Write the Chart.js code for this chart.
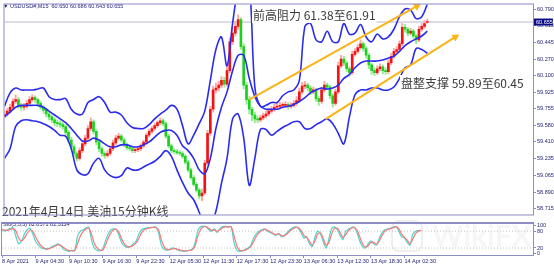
<!DOCTYPE html>
<html>
<head>
<meta charset="utf-8">
<script src="https://cdn.jsdelivr.net/npm/chart.js@4.4.1/dist/chart.umd.min.js"></script>
<style>
  html, body { margin: 0; padding: 0; background: #fff; }
  #wrap { position: relative; width: 554px; height: 265px; overflow: hidden; }
  #mainChart { position: absolute; left: 0; top: 0; }
  #stoChart { position: absolute; left: 0; top: 219px; }
</style>
</head>
<body>
<div id="wrap">
  <canvas id="mainChart" width="554" height="219"></canvas>
  <canvas id="stoChart" width="554" height="46"></canvas>
</div>
<script>
// 15-minute candles, one drawn candle every 2 bars
const candleOpen = [59.68,59.70,59.73,59.77,59.83,59.85,59.79,59.77,59.78,59.81,
  59.85,59.87,59.85,59.81,59.77,59.74,59.70,59.67,59.64,59.61,
  59.60,59.59,59.57,59.51,59.43,59.36,59.29,59.24,59.32,59.39,
  59.45,59.55,59.62,59.52,59.41,59.34,59.29,59.27,59.29,59.34,
  59.40,59.45,59.47,59.43,59.38,59.35,59.34,59.32,59.33,59.34,
  59.37,59.41,59.48,59.52,59.55,59.58,59.61,59.63,59.60,59.47,
  59.37,59.32,59.31,59.30,59.29,59.26,59.20,59.12,59.04,58.97,
  58.91,58.85,58.88,59.19,59.50,59.75,59.95,59.97,60.00,60.05,
  60.01,60.15,60.45,60.54,60.61,60.68,60.40,60.00,59.85,59.75,
  59.69,59.65,59.64,59.66,59.68,59.70,59.73,59.75,59.77,59.78,
  59.79,59.79,59.80,59.78,59.79,59.81,59.84,59.93,59.99,60.00,
  59.97,59.93,59.95,59.86,59.83,59.95,60.00,59.98,59.89,59.81,
  59.93,60.20,60.27,60.23,60.17,60.13,60.32,60.35,60.39,60.43,
  60.38,60.31,60.21,60.15,60.13,60.17,60.19,60.15,60.14,60.23,
  60.30,60.35,60.37,60.43,60.60,60.58,60.54,60.56,60.51,60.47,
  60.58,60.61,60.65];
const candleHigh = [59.74,59.76,59.80,59.86,59.90,59.87,59.81,59.81,59.84,59.88,
  59.90,59.89,59.86,59.83,59.79,59.76,59.72,59.69,59.66,59.64,
  59.63,59.61,59.59,59.53,59.46,59.38,59.31,59.35,59.42,59.48,
  59.58,59.66,59.64,59.54,59.43,59.36,59.31,59.32,59.37,59.43,
  59.48,59.50,59.49,59.45,59.40,59.37,59.36,59.35,59.36,59.39,
  59.43,59.50,59.54,59.57,59.60,59.63,59.66,59.65,59.62,59.49,
  59.39,59.34,59.33,59.32,59.31,59.28,59.22,59.14,59.06,58.99,
  58.93,58.92,59.22,59.53,59.78,59.99,60.02,60.04,60.09,60.08,
  60.19,60.49,60.60,60.66,60.73,60.70,60.43,60.03,59.88,59.77,
  59.72,59.68,59.69,59.71,59.73,59.76,59.78,59.80,59.81,59.82,
  59.82,59.83,59.82,59.82,59.84,59.88,59.97,60.03,60.04,60.02,
  59.99,59.98,59.97,59.88,59.98,60.04,60.02,60.00,59.91,59.96,
  60.24,60.31,60.30,60.25,60.19,60.35,60.38,60.42,60.47,60.45,
  60.40,60.33,60.23,60.18,60.20,60.22,60.21,60.18,60.26,60.33,
  60.38,60.40,60.46,60.64,60.63,60.60,60.59,60.58,60.53,60.61,
  60.64,60.67,60.686];
const candleLow = [59.66,59.68,59.71,59.75,59.81,59.76,59.74,59.74,59.76,59.79,
  59.83,59.82,59.78,59.75,59.71,59.67,59.64,59.61,59.58,59.57,
  59.56,59.54,59.48,59.40,59.33,59.26,59.21,59.22,59.30,59.37,
  59.43,59.53,59.49,59.38,59.31,59.26,59.24,59.25,59.27,59.32,
  59.38,59.43,59.41,59.36,59.33,59.32,59.30,59.30,59.31,59.32,
  59.35,59.39,59.46,59.50,59.53,59.56,59.59,59.58,59.45,59.35,
  59.30,59.29,59.28,59.27,59.24,59.18,59.10,59.02,58.95,58.89,
  58.82,58.80,58.86,59.17,59.48,59.72,59.92,59.94,59.97,59.98,
  59.99,60.13,60.42,60.51,60.58,60.37,59.96,59.80,59.70,59.63,
  59.61,59.61,59.62,59.64,59.66,59.68,59.71,59.73,59.75,59.76,
  59.76,59.77,59.75,59.76,59.77,59.79,59.82,59.91,59.96,59.94,
  59.90,59.91,59.83,59.79,59.81,59.93,59.95,59.86,59.77,59.79,
  59.91,60.18,60.20,60.14,60.09,60.11,60.30,60.33,60.37,60.35,
  60.28,60.17,60.11,60.10,60.11,60.15,60.12,60.11,60.12,60.21,
  60.28,60.33,60.35,60.41,60.55,60.51,60.52,60.48,60.43,60.45,
  60.56,60.59,60.643];
const candleClose = [59.70,59.73,59.77,59.83,59.85,59.79,59.77,59.78,59.81,59.85,
  59.87,59.85,59.81,59.77,59.74,59.70,59.67,59.64,59.61,59.60,
  59.59,59.57,59.51,59.43,59.36,59.29,59.24,59.32,59.39,59.45,
  59.55,59.62,59.52,59.41,59.34,59.29,59.27,59.29,59.34,59.40,
  59.45,59.47,59.43,59.38,59.35,59.34,59.32,59.33,59.34,59.37,
  59.41,59.48,59.52,59.55,59.58,59.61,59.63,59.60,59.47,59.37,
  59.32,59.31,59.30,59.29,59.26,59.20,59.12,59.04,58.97,58.91,
  58.85,58.88,59.19,59.50,59.75,59.95,59.97,60.00,60.05,60.01,
  60.15,60.45,60.54,60.61,60.68,60.40,60.00,59.85,59.75,59.69,
  59.65,59.64,59.66,59.68,59.70,59.73,59.75,59.77,59.78,59.79,
  59.79,59.80,59.78,59.79,59.81,59.84,59.93,59.99,60.00,59.97,
  59.93,59.95,59.86,59.83,59.95,60.00,59.98,59.89,59.81,59.93,
  60.20,60.27,60.23,60.17,60.13,60.32,60.35,60.39,60.43,60.38,
  60.31,60.21,60.15,60.13,60.17,60.19,60.15,60.14,60.23,60.30,
  60.35,60.37,60.43,60.60,60.58,60.54,60.56,60.51,60.47,60.58,
  60.61,60.64,60.655];

// Bollinger bands, read every 4 bars
const bandUpper = [59.78,59.92,59.97,59.95,59.95,59.95,59.96,59.97,59.88,59.85,
  59.85,59.86,59.75,59.70,59.70,59.82,59.85,59.88,59.82,59.72,
  59.72,59.69,59.61,59.56,59.55,59.55,59.59,59.65,59.70,59.74,
  59.79,59.75,59.58,59.39,59.48,59.60,59.73,60.05,60.37,60.50,
  60.20,60.64,61.01,61.16,61.06,59.98,59.78,59.79,59.82,59.82,
  59.89,59.93,59.95,60.05,60.61,60.64,60.47,60.45,60.56,60.45,
  60.45,60.64,60.53,60.54,60.63,60.50,60.45,60.53,60.48,60.50,
  60.58,60.71,60.79,60.78,60.69,60.71,60.84];
const bandMiddle = [59.67,59.72,59.77,59.79,59.79,59.79,59.79,59.77,59.73,59.69,
  59.65,59.61,59.55,59.48,59.42,59.42,59.45,59.43,59.39,59.36,
  59.36,59.38,59.38,59.36,59.36,59.38,59.41,59.46,59.51,59.53,
  59.53,59.48,59.37,59.32,59.24,59.12,59.08,59.24,59.55,59.77,
  59.93,60.15,60.31,60.31,60.07,59.88,59.78,59.75,59.75,59.75,
  59.77,59.78,59.80,59.83,59.87,59.92,59.95,59.97,59.96,59.97,
  60.00,60.07,60.11,60.18,60.23,60.25,60.25,60.25,60.26,60.28,
  60.30,60.35,60.41,60.45,60.48,60.51,60.56];
const bandLower = [59.24,59.34,59.57,59.63,59.64,59.63,59.62,59.60,59.57,59.53,
  59.48,59.47,59.34,59.12,59.07,59.08,59.19,59.24,59.12,59.06,
  59.04,59.06,59.14,59.12,59.12,59.15,59.18,59.21,59.26,59.32,
  59.26,59.12,58.99,58.88,58.81,58.68,58.52,58.54,58.69,58.98,
  59.24,59.65,59.70,59.45,58.96,59.24,59.54,59.54,59.48,59.52,
  59.56,59.59,59.62,59.62,59.55,59.55,59.59,59.62,59.65,59.60,
  59.50,59.39,59.67,59.90,59.95,59.95,59.97,59.97,59.95,59.95,
  59.98,60.07,60.18,60.21,60.38,60.37,60.33];

// Stochastic (5,3,3), every 2 bars
const stoMain = [88,80,85,90,92,60,35,45,70,85,90,
  70,45,30,20,18,15,20,25,30,35,28,
  15,10,8,12,10,
  60,80,85,92,95,
  50,20,12,10,15,
  45,70,85,88,85,
  60,35,25,22,25,35,45,
  70,85,90,92,93,94,95,
  75,30,15,12,15,20,18,
  12,10,8,10,12,15,35,
  80,95,98,96,85,80,88,75,90,96,97,95,96,
  40,12,8,10,15,20,30,
  55,70,80,85,88,80,75,70,65,72,60,65,75,85,
  92,95,90,75,55,60,
  35,25,60,80,70,40,20,55,
  90,95,85,65,50,80,88,92,95,
  75,45,25,20,35,45,35,30,55,
  75,85,88,90,95,97,
  80,60,55,40,30,70,80,82,82.86];
const stoSignal = [85,84,83,86,89,80,55,45,55,72,84,
  80,60,42,28,20,17,18,22,27,31,30,
  22,15,11,10,11,
  35,62,78,87,92,
  70,38,20,13,12,
  30,55,75,85,86,
  72,48,32,25,25,30,38,
  55,75,85,90,92,93,94,
  85,50,25,15,14,17,18,
  15,12,10,10,11,13,25,
  60,85,95,96,90,83,84,80,85,92,95,95,95,
  65,28,12,10,12,17,25,
  42,62,75,82,86,83,78,72,68,70,65,63,70,80,
  88,93,92,82,65,58,
  45,30,45,70,74,52,30,40,
  72,90,90,75,58,68,82,90,93,
  84,60,35,23,28,40,40,33,45,
  65,80,86,89,92,96,
  88,70,58,48,35,52,72,80,82.31];

// hand-drawn channel lines (bar index, price)
const channelTopX = [176.0, 296.5];
const channelTopY = [59.85, 60.82];
const channelLowX = [231.1, 324.2];
const channelLowY = [59.65, 60.50];

const priceTicks = [60.790, 60.615, 60.445, 60.270, 60.100, 59.925, 59.755, 59.580, 59.410, 59.235, 59.065, 58.890, 58.715];
const stoTicks = [0, 20, 80, 100];
const stoLevels = [20, 80];
const timeTickBars = [0, 24, 48, 72, 96, 120, 144, 168, 192, 216, 240, 264, 288];
const timeLabels = ['8 Apr 2021', '9 Apr 04:30', '9 Apr 10:30', '9 Apr 16:30', '9 Apr 22:30', '12 Apr 05:30',
  '12 Apr 11:30', '12 Apr 17:30', '12 Apr 23:30', '13 Apr 06:30', '13 Apr 12:30', '13 Apr 18:30', '14 Apr 02:30'];
const lastPrice = 60.655;

const BAR_MAX = 380;
const axisColor = '#8c8cc8';
const labelColor = '#23237a';
const bandBlue = '#2b2bf0';
const orange = '#fbb316';
const tinyFont = { family: 'Liberation Sans', size: 5.5 };

const candleX = candleClose.map((c, i) => i * 2);
const bandX = bandUpper.map((v, i) => i * 4);

const isUp = candleClose.map((c, i) => c >= candleOpen[i]);

const frame = {
  id: 'frame',
  afterDraw(chart, args, opts) {
    const { ctx, chartArea: a } = chart;
    ctx.save();
    ctx.strokeStyle = axisColor;
    ctx.lineWidth = 1;
    ctx.strokeRect(a.left - 0.5, a.top - 0.5, a.right - a.left + 1, a.bottom - a.top + 1);
    if (opts.heavyTop) {
      ctx.fillStyle = '#7d7dc0';
      ctx.fillRect(a.left - 1, a.top - 1, a.right - a.left + 2, 1.5);
    }
    ctx.restore();
  }
};

const notes = {
  id: 'notes',
  afterDatasetsDraw(chart) {
    const { ctx, scales } = chart;
    ctx.save();
    ctx.textBaseline = 'middle';
    ctx.font = '5.5px "Liberation Sans"';
    ctx.fillStyle = labelColor;
    ctx.fillText('\u25BC USDUSD#,M15  60.650 60.686 60.643 60.655', 3, 6);

    ctx.font = '12px "Noto Sans CJK SC"';
    const texts = [
      ['前高阻力 61.38至61.91', 253, 15],
      ['盘整支撑 59.89至60.45', 401, 83],
      ['2021年4月14日 美油15分钟K线', 2, 211]
    ];
    texts.forEach(([t, x, y]) => {
      const w = ctx.measureText(t).width;
      ctx.fillStyle = '#ffffff';
      ctx.fillRect(x - 1, y - 8, w + 2, 16);
      ctx.fillStyle = '#3b3b3b';
      ctx.fillText(t, x, y);
    });

    // current price box on the axis
    const py = scales.y.getPixelForValue(lastPrice);
    ctx.fillStyle = '#0c0c86';
    ctx.fillRect(534, py - 3.5, 19, 7);
    ctx.fillStyle = '#ffffff';
    ctx.font = '5.5px "Liberation Sans"';
    ctx.fillText(lastPrice.toFixed(3), 536, py + 0.5);
    ctx.restore();
  }
};

new Chart(document.getElementById('mainChart'), {
  type: 'bar',
  data: {
    datasets: [
      {
        type: 'line',
        data: [{ x: 0, y: lastPrice }, { x: BAR_MAX, y: lastPrice }],
        borderColor: '#b9b9cf', borderWidth: 1, pointRadius: 0, order: 6
      },
      {
        label: 'wicks',
        data: candleX.map((x, i) => ({ x, y: [candleLow[i], candleHigh[i]] })),
        backgroundColor: isUp.map(u => u ? '#ffa6a6' : '#95ec95'),
        barThickness: 1.3, grouped: false, order: 5
      },
      {
        label: 'bodies',
        data: candleX.map((x, i) => ({ x, y: [candleOpen[i], candleClose[i]] })),
        backgroundColor: isUp.map(u => u ? '#f21414' : '#1fcf1f'),
        barThickness: 2, grouped: false, minBarLength: 1, order: 4
      },
      ...[bandUpper, bandMiddle, bandLower].map(band => ({
        type: 'line',
        data: bandX.map((x, i) => ({ x, y: band[i] })),
        borderColor: bandBlue, borderWidth: 1.6, pointRadius: 0, tension: 0.35, order: 2
      })),
      ...[[channelTopX, channelTopY, 60], [channelLowX, channelLowY, 57]].map(([xs, ys, rot]) => ({
        type: 'line',
        data: xs.map((x, i) => ({ x, y: ys[i] })),
        borderColor: orange, borderWidth: 2,
        pointStyle: 'triangle', pointRadius: [0, 4.5], pointRotation: [0, rot],
        pointBackgroundColor: orange, pointBorderColor: orange, pointBorderWidth: 0,
        clip: false, order: 1
      }))
    ]
  },
  options: {
    responsive: false,
    animation: false,
    events: [],
    layout: { padding: { left: 2, top: 2, bottom: 1, right: 0 } },
    plugins: { legend: { display: false }, tooltip: { enabled: false }, frame: {} },
    scales: {
      x: { type: 'linear', min: 0, max: BAR_MAX, offset: false, display: false },
      y: {
        position: 'right', min: 58.657, max: 60.837,
        afterFit: s => { s.width = 21; },
        afterBuildTicks: s => { s.ticks = priceTicks.map(v => ({ value: v })); },
        ticks: { autoSkip: false, font: tinyFont, color: labelColor, padding: 1, callback: v => v.toFixed(3) },
        grid: { drawOnChartArea: false, tickLength: 3, color: axisColor },
        border: { color: axisColor }
      }
    }
  },
  plugins: [frame, notes]
});

const watermark = {
  id: 'watermark',
  beforeDatasetsDraw(chart) {
    const { ctx } = chart;
    ctx.save();
    ctx.strokeStyle = 'rgba(190,190,190,0.25)';
    ctx.lineWidth = 2;
    ctx.beginPath();
    ctx.roundRect(392, 2, 30, 30, 7);
    ctx.stroke();
    ctx.font = 'bold 30px Lato';
    ctx.fillStyle = 'rgba(200,200,200,0.16)';
    ctx.textBaseline = 'middle';
    ctx.fillText('WikiFX', 432, 18);
    ctx.restore();
  }
};

const stoLabel = {
  id: 'stoLabel',
  afterDatasetsDraw(chart) {
    const { ctx } = chart;
    ctx.save();
    ctx.font = '5.5px "Liberation Sans"';
    ctx.fillStyle = labelColor;
    ctx.textBaseline = 'middle';
    ctx.fillText('Sto(5,3,3) 82.8571 82.3114', 3, 5);
    ctx.restore();
  }
};

new Chart(document.getElementById('stoChart'), {
  type: 'line',
  data: {
    datasets: [
      ...stoLevels.map(v => ({
        data: [{ x: 0, y: v }, { x: BAR_MAX, y: v }],
        borderColor: '#c4c4c4', borderWidth: 1, borderDash: [1, 2], pointRadius: 0, order: 3
      })),
      {
        data: candleX.map((x, i) => ({ x, y: stoMain[i] })),
        borderColor: '#4fd4cc', borderWidth: 1.2, pointRadius: 0, tension: 0.25, order: 2
      },
      {
        data: candleX.map((x, i) => ({ x, y: stoSignal[i] })),
        borderColor: '#f57a7a', borderWidth: 1.2, pointRadius: 0, tension: 0.25, order: 1
      }
    ]
  },
  options: {
    responsive: false,
    animation: false,
    events: [],
    layout: { padding: { left: 2, top: 1, bottom: 0, right: 0 } },
    plugins: { legend: { display: false }, tooltip: { enabled: false }, frame: { heavyTop: true } },
    scales: {
      x: {
        type: 'linear', min: 0, max: BAR_MAX, offset: false,
        afterFit: s => { s.height = 10; },
        afterBuildTicks: s => { s.ticks = timeTickBars.map(v => ({ value: v })); },
        ticks: { autoSkip: false, maxRotation: 0, align: 'start', font: tinyFont, color: labelColor, padding: 0,
          callback: (v, i) => timeLabels[i] },
        grid: { drawOnChartArea: false, tickLength: 3, color: axisColor },
        border: { color: axisColor }
      },
      y: {
        position: 'right', min: -5, max: 108,
        afterFit: s => { s.width = 21; },
        afterBuildTicks: s => { s.ticks = stoTicks.map(v => ({ value: v })); },
        ticks: { autoSkip: false, font: tinyFont, color: labelColor, padding: 1 },
        grid: { drawOnChartArea: false, tickLength: 3, color: axisColor },
        border: { color: axisColor }
      }
    }
  },
  plugins: [frame, watermark, stoLabel]
});
</script>
</body>
</html>
